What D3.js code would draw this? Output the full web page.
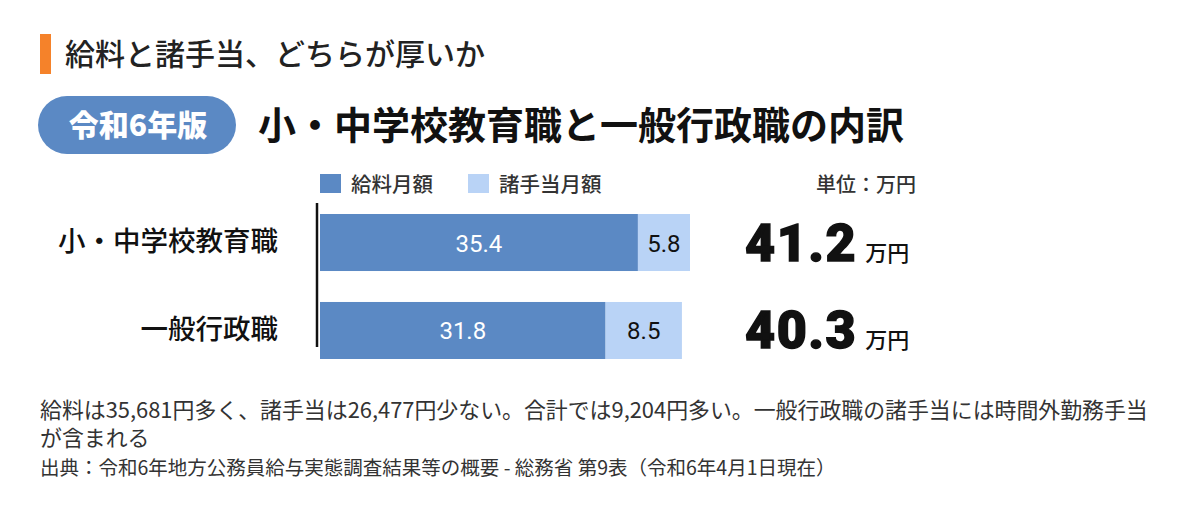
<!DOCTYPE html>
<html>
<head>
<meta charset="utf-8">
<script src="https://cdn.jsdelivr.net/npm/d3@7"></script>
<style>
  body { margin: 0; background: #fff; }
  svg { display: block; font-family: "Noto Sans CJK JP", "Noto Sans", sans-serif; }
</style>
</head>
<body>
<svg></svg>
<script>
// data
const categories = ["小・中学校教育職", "一般行政職"];
const salary = [35.4, 31.8];
const allowance = [5.8, 8.5];
const totals = [41.2, 40.3];
const seriesNames = ["給料月額", "諸手当月額"];
const seriesColors = ["#5b89c4", "#b9d3f6"];

const svgWidth = 1200;
const svgHeight = 507;

const svg = d3.select("svg")
    .attr("width", svgWidth)
    .attr("height", svgHeight);

// header
svg.append("rect")
    .attr("x", 40).attr("y", 34).attr("width", 11).attr("height", 40)
    .attr("fill", "#f5822a");
svg.append("text")
    .attr("x", 65).attr("y", 65)
    .attr("font-size", 30).attr("font-weight", 500).attr("fill", "#222")
    .text("給料と諸手当、どちらが厚いか");

svg.append("rect")
    .attr("x", 38).attr("y", 96).attr("width", 198).attr("height", 58)
    .attr("rx", 29)
    .attr("fill", "#5b89c4");
svg.append("text")
    .attr("x", 138).attr("y", 136)
    .attr("text-anchor", "middle")
    .attr("font-size", 30).attr("font-weight", 900).attr("fill", "#fff")
    .text("令和6年版");
svg.append("text")
    .attr("x", 258).attr("y", 139)
    .attr("font-size", 38).attr("font-weight", 700).attr("fill", "#111")
    .text("小・中学校教育職と一般行政職の内訳");

// scales
const x = d3.scaleLinear()
    .domain([0, 41.2])
    .range([320, 690]);

const y = d3.scaleBand()
    .domain(categories)
    .range([205.2, 367.8])
    .paddingInner(0.352)
    .paddingOuter(0.1);

// legend
const legend = svg.append("g");
seriesNames.forEach((name, i) => {
    const lx = [320, 468][i];
    legend.append("rect")
        .attr("x", lx).attr("y", 174).attr("width", 21).attr("height", 19)
        .attr("fill", seriesColors[i]);
    legend.append("text")
        .attr("x", lx + 31).attr("y", 192)
        .attr("font-size", 20.5).attr("font-weight", 500).attr("fill", "#333")
        .text(name);
});
svg.append("text")
    .attr("x", 916).attr("y", 192)
    .attr("text-anchor", "end")
    .attr("font-size", 20).attr("font-weight", 500).attr("fill", "#333")
    .text("単位：万円");

// bars
const rows = categories.map((c, i) => ({ cat: c, salary: salary[i], allowance: allowance[i], total: totals[i] }));

const g = svg.append("g");
g.selectAll("rect.salary")
    .data(rows).enter().append("rect")
    .attr("class", "salary")
    .attr("x", x(0))
    .attr("y", d => y(d.cat))
    .attr("width", d => x(d.salary) - x(0))
    .attr("height", y.bandwidth())
    .attr("fill", seriesColors[0]);
g.selectAll("rect.allow")
    .data(rows).enter().append("rect")
    .attr("class", "allow")
    .attr("x", d => x(d.salary))
    .attr("y", d => y(d.cat))
    .attr("width", d => x(d.salary + d.allowance) - x(d.salary))
    .attr("height", y.bandwidth())
    .attr("fill", seriesColors[1]);

g.selectAll("text.salary")
    .data(rows).enter().append("text")
    .attr("x", d => (x(0) + x(d.salary)) / 2)
    .attr("y", d => y(d.cat) + y.bandwidth() / 2 + 9)
    .attr("text-anchor", "middle")
    .attr("font-family", "Roboto, sans-serif")
    .attr("font-size", 24).attr("fill", "#fff")
    .text(d => d.salary.toFixed(1));
g.selectAll("text.allow")
    .data(rows).enter().append("text")
    .attr("x", d => (x(d.salary) + x(d.salary + d.allowance)) / 2)
    .attr("y", d => y(d.cat) + y.bandwidth() / 2 + 9)
    .attr("text-anchor", "middle")
    .attr("font-family", "Roboto, sans-serif")
    .attr("font-size", 24).attr("fill", "#111")
    .text(d => d.allowance.toFixed(1));

// totals
const tot = g.selectAll("text.total")
    .data(rows).enter().append("text")
    .attr("x", 745)
    .attr("y", d => y(d.cat) + y.bandwidth() / 2 + 18)
    .attr("fill", "#111");
tot.append("tspan")
    .attr("font-family", "Roboto, sans-serif")
    .attr("font-size", 52).attr("font-weight", 900)
    .attr("letter-spacing", 1.5)
    .attr("stroke", "#111").attr("stroke-width", 1.4)
    .text(d => d.total.toFixed(1));
tot.append("tspan")
    .attr("dx", 8)
    .attr("font-size", 22).attr("font-weight", 500)
    .text("万円");

// axis (category labels)
const axis = svg.append("g")
    .attr("transform", "translate(317,0)")
    .call(d3.axisLeft(y).tickSize(0).tickPadding(39));
axis.select(".domain")
    .attr("d", "M0,203V347")
    .attr("stroke", "#111").attr("stroke-width", 2.5);
axis.selectAll(".tick text")
    .attr("font-family", "'Noto Sans CJK JP', sans-serif")
    .attr("font-size", 27.5).attr("font-weight", 500).attr("fill", "#111");

// notes
svg.append("text")
    .attr("x", 40).attr("y", 418)
    .attr("font-size", 21.9).attr("fill", "#333")
    .text("給料は35,681円多く、諸手当は26,477円少ない。合計では9,204円多い。一般行政職の諸手当には時間外勤務手当");
svg.append("text")
    .attr("x", 40).attr("y", 446)
    .attr("font-size", 21.9).attr("fill", "#333")
    .text("が含まれる");
svg.append("text")
    .attr("x", 40).attr("y", 475)
    .attr("font-size", 19.5).attr("fill", "#333")
    .text("出典：令和6年地方公務員給与実態調査結果等の概要 - 総務省 第9表（令和6年4月1日現在）");
</script>
</body>
</html>
